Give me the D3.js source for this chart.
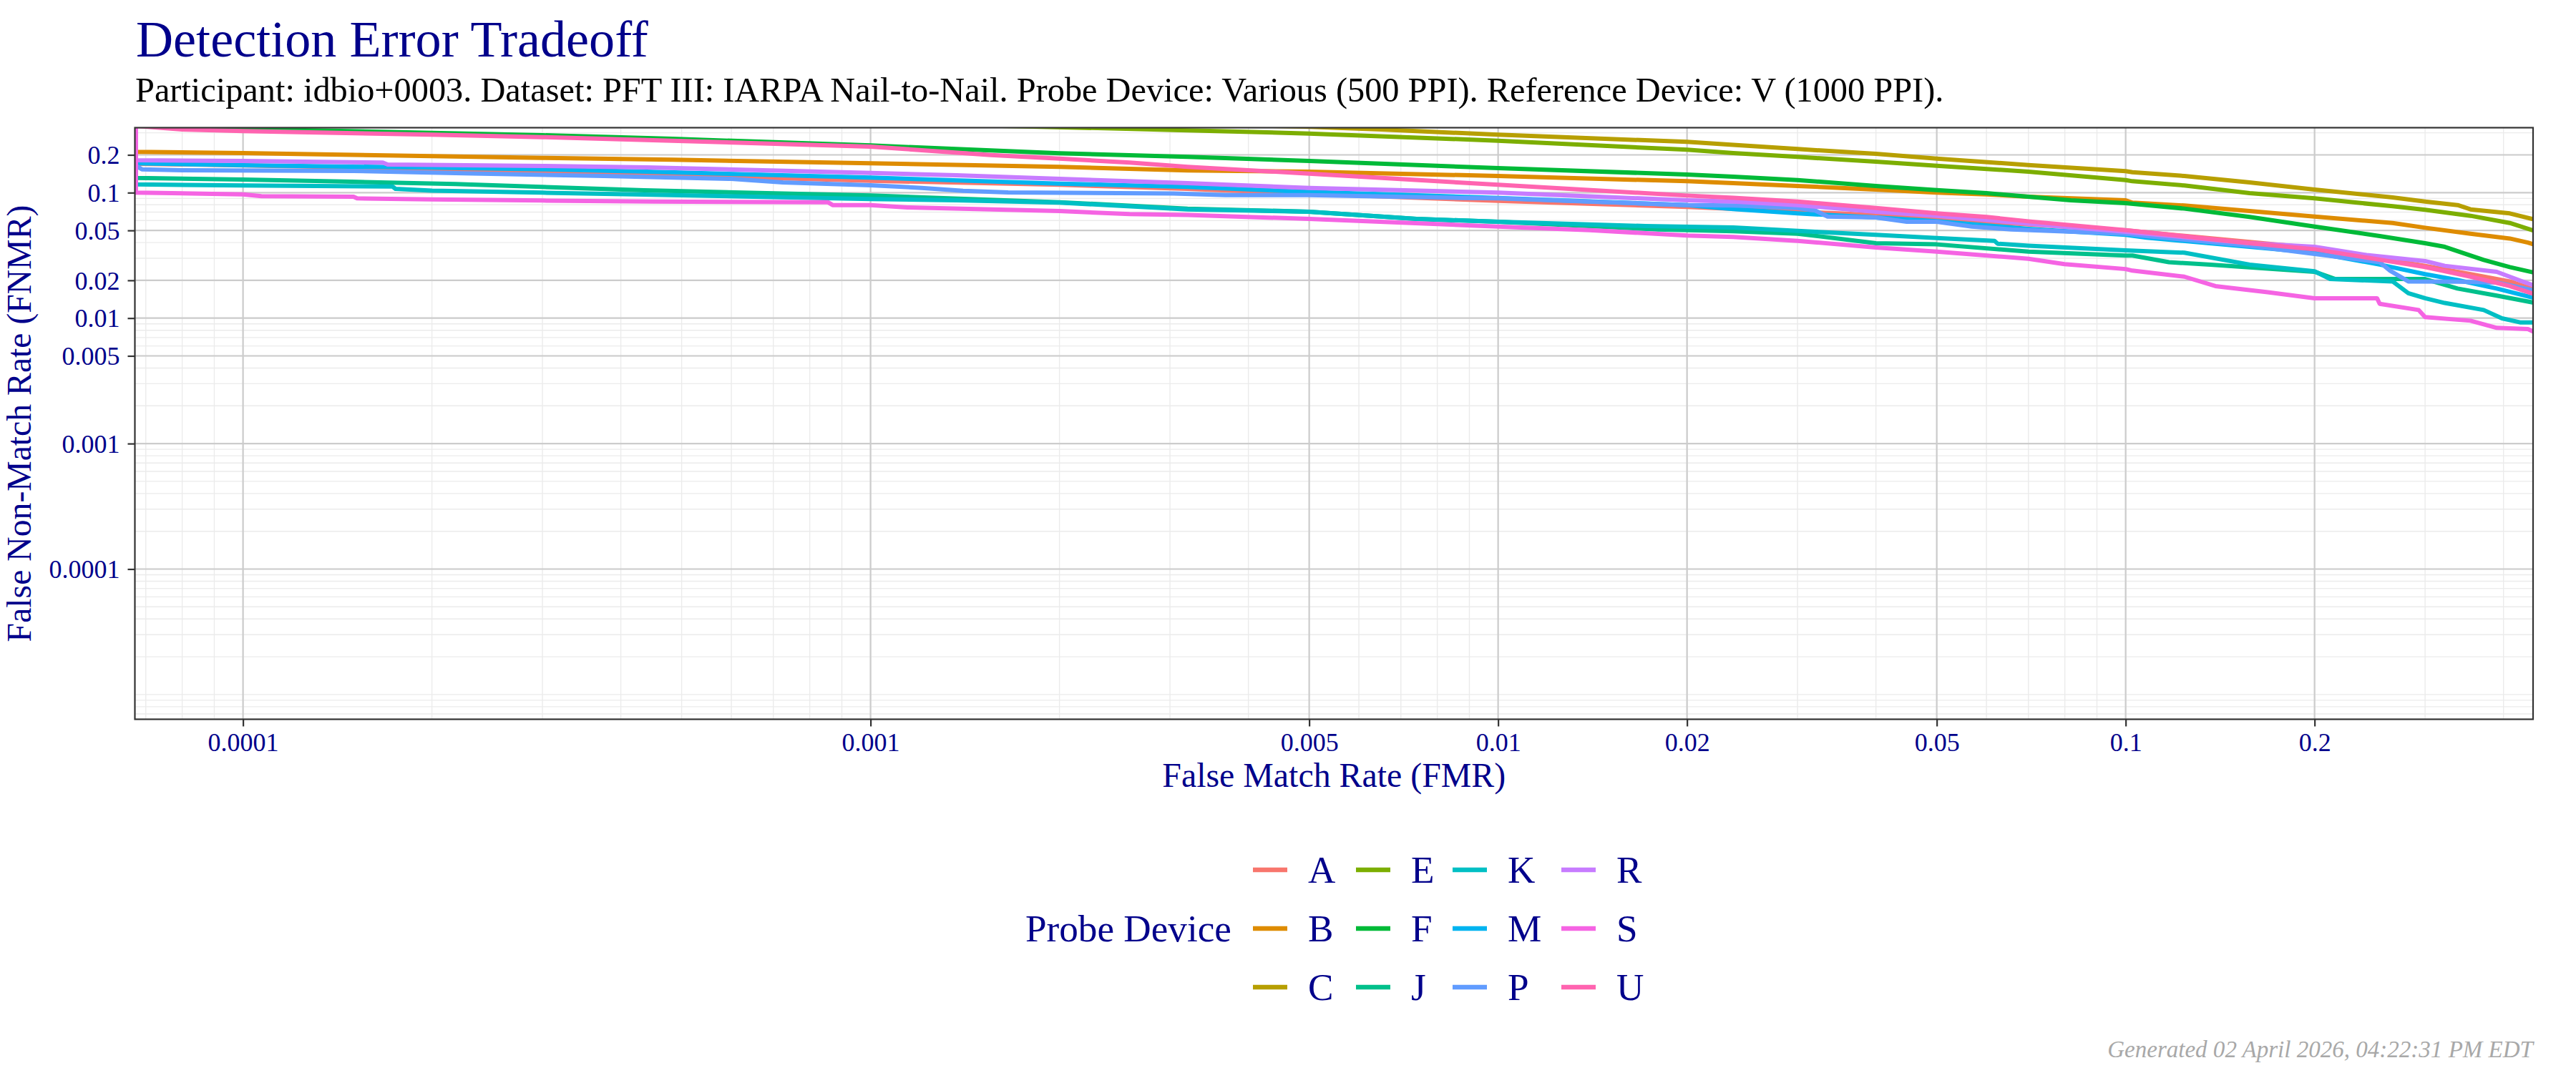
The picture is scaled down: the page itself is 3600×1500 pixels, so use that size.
<!DOCTYPE html>
<html>
<head>
<meta charset="utf-8">
<script src="https://cdn.jsdelivr.net/npm/d3@7"></script>
<style>
  html, body { margin: 0; padding: 0; background: #ffffff; }
  svg { display: block; }
</style>
</head>
<body>
<svg id="chart" width="3600" height="1500"></svg>
<script>
// ---------------- DATA ----------------
const devices = ["A","B","C","E","F","J","K","M","P","R","S","U"];
const deviceColors = ["#F8766D","#DE8C00","#B79F00","#7CAE00","#00BA38","#00C08B","#00BFC4","#00B4F0","#619CFF","#C77CFF","#F564E3","#FF64B0"];

const xTickValues = [0.0001, 0.001, 0.005, 0.01, 0.02, 0.05, 0.1, 0.2];
const xTickLabels = ["0.0001","0.001","0.005","0.01","0.02","0.05","0.1","0.2"];
const yTickValues = [0.0001, 0.001, 0.005, 0.01, 0.02, 0.05, 0.1, 0.2];
const yTickLabels = ["0.0001","0.001","0.005","0.01","0.02","0.05","0.1","0.2"];

// [FMR, FNMR] pairs
const detA = [[6.75e-5,1],[6.75e-5,0.170],[1e-4,0.165],[2e-4,0.155],[3e-4,0.147],[6e-4,0.1334],[1e-3,0.1243],[2e-3,0.1155],[3.2e-3,0.1072],[5e-3,0.098],[0.01,0.086],[0.02,0.077],[0.036,0.068],[0.05,0.062],[0.1,0.050],[0.1576,0.0404],[0.2,0.0362],[0.3,0.0261],[0.3545,0.0224],[0.4093,0.0196],[0.45,0.0168]];
const detB = [[6.75e-5,1],[6.75e-5,0.2113],[1e-4,0.2067],[2e-4,0.1953],[3e-4,0.1894],[4.84e-4,0.1829],[1e-3,0.1713],[2e-3,0.1604],[3.2e-3,0.1502],[5e-3,0.1469],[0.01,0.1358],[0.02,0.1233],[0.0237,0.119],[0.03,0.113],[0.04,0.1058],[0.05,0.1],[0.06,0.0969],[0.07,0.0928],[0.1,0.0869],[0.1025,0.0832],[0.124,0.0789],[0.1576,0.0714],[0.2,0.0645],[0.2663,0.0573],[0.3,0.0525],[0.3545,0.0471],[0.4093,0.0431],[0.4375,0.0400],[0.45,0.0382]];
const detC = [[6.75e-5,1],[6.75e-5,0.52],[1e-3,0.40],[5e-3,0.335],[6.52e-3,0.3187],[0.01,0.2894],[0.02,0.2539],[0.0237,0.240],[0.03,0.2226],[0.04,0.2039],[0.05,0.1869],[0.07,0.1661],[0.1,0.1482],[0.1025,0.1456],[0.124,0.1358],[0.1576,0.1206],[0.2,0.1058],[0.2663,0.0916],[0.3,0.085],[0.338,0.0796],[0.3545,0.0736],[0.4093,0.0683],[0.45,0.0607]];
const detE = [[6.75e-5,1],[6.75e-5,0.48],[1e-3,0.36],[2.76e-3,0.32],[3.04e-3,0.316],[5e-3,0.2958],[0.01,0.2595],[0.02,0.2197],[0.0237,0.2065],[0.03,0.1927],[0.04,0.1766],[0.05,0.1639],[0.07,0.1469],[0.1,0.126],[0.1025,0.1233],[0.124,0.114],[0.1576,0.0991],[0.2,0.09],[0.2663,0.0779],[0.3,0.073],[0.3545,0.0654],[0.4093,0.0573],[0.45,0.0492]];
const detF = [[6.75e-5,1],[6.75e-5,0.345],[1e-4,0.322],[2e-4,0.2997],[3e-4,0.287],[4.84e-4,0.2687],[1e-3,0.2377],[2e-3,0.2058],[3.2e-3,0.1927],[5e-3,0.1789],[0.01,0.1569],[0.02,0.1394],[0.0237,0.134],[0.03,0.126],[0.04,0.113],[0.05,0.1049],[0.06,0.0991],[0.07,0.0928],[0.0818,0.0869],[0.1,0.0824],[0.124,0.0746],[0.1576,0.064],[0.2,0.0537],[0.254,0.0451],[0.3,0.0395],[0.3225,0.037],[0.372,0.0291],[0.4093,0.0255],[0.45,0.0229]];
const detJ = [[6.75e-5,1],[6.75e-5,0.1311],[1e-4,0.1272],[1.49e-4,0.1222],[2.18e-4,0.117],[4.36e-4,0.1044],[1e-3,0.0948],[2e-3,0.0839],[3.2e-3,0.0746],[5e-3,0.0705],[7.41e-3,0.0618],[0.01,0.0586],[0.018,0.0509],[0.0237,0.0492],[0.03,0.0471],[0.04,0.0395],[0.05,0.0387],[0.07,0.0339],[0.1,0.0315],[0.1025,0.0315],[0.1172,0.0279],[0.1365,0.0267],[0.2,0.0234],[0.2158,0.0205],[0.3,0.0205],[0.338,0.0172],[0.3902,0.0151],[0.45,0.0132]];
const detK = [[6.75e-5,1],[6.75e-5,0.1165],[1e-4,0.114],[1.73e-4,0.112],[1.75e-4,0.1072],[2e-4,0.1039],[3e-4,0.1],[4.36e-4,0.0965],[1e-3,0.0888],[1.37e-3,0.0869],[2e-3,0.0832],[3.2e-3,0.0736],[5e-3,0.0705],[7.41e-3,0.0618],[0.01,0.0586],[0.01716,0.0542],[0.0237,0.0528],[0.03,0.0496],[0.04,0.0461],[0.05,0.0435],[0.0618,0.0413],[0.0625,0.0392],[0.07,0.0378],[0.1,0.0347],[0.124,0.0332],[0.1576,0.0267],[0.2,0.0236],[0.2118,0.0205],[0.2663,0.0196],[0.2821,0.0158],[0.3,0.0144],[0.3225,0.0132],[0.372,0.0116],[0.3977,0.00996],[0.425,0.00925],[0.45,0.00925]];
const detM = [[6.75e-5,1],[6.75e-5,0.1713],[1e-4,0.1654],[2e-4,0.1583],[3e-4,0.1535],[4.4e-4,0.147],[1e-3,0.1317],[2e-3,0.118],[3.2e-3,0.111],[5e-3,0.1013],[0.01,0.0908],[0.02,0.0796],[0.0237,0.074],[0.03,0.0683],[0.04,0.0634],[0.05,0.0591],[0.07,0.0514],[0.1,0.0461],[0.108,0.0438],[0.1576,0.037],[0.2,0.0332],[0.254,0.0267],[0.3,0.0224],[0.338,0.0201],[0.3902,0.0172],[0.45,0.0144]];
const detP = [[6.75e-5,1],[6.75e-5,0.164],[6.9e-5,0.1535],[8e-5,0.1509],[1.5e-4,0.1489],[2.32e-4,0.1424],[2.84e-4,0.1394],[3.76e-4,0.1358],[6e-4,0.1288],[7.25e-4,0.1206],[1e-3,0.1145],[1.206e-3,0.1091],[1.404e-3,0.1035],[1.657e-3,0.1004],[3.04e-3,0.0985],[3.68e-3,0.0957],[5e-3,0.0955],[8.74e-3,0.0908],[0.01,0.09],[0.02,0.0796],[0.0237,0.079],[0.03,0.0755],[0.032,0.072],[0.0335,0.0645],[0.04,0.0634],[0.0448,0.0586],[0.05,0.0586],[0.054,0.0556],[0.0569,0.0537],[0.0658,0.0509],[0.1,0.0471],[0.108,0.045],[0.1576,0.0378],[0.2,0.0325],[0.254,0.0279],[0.2638,0.0239],[0.2821,0.0196],[0.338,0.0195],[0.3902,0.0192],[0.45,0.0165]];
const detR = [[6.75e-5,1],[6.75e-5,0.1813],[1e-4,0.1789],[1.67e-4,0.1735],[1.7e-4,0.1675],[3e-4,0.1632],[4.4e-4,0.159],[1e-3,0.1437],[1.37e-3,0.1376],[2e-3,0.1288],[3.2e-3,0.119],[5e-3,0.1091],[0.01,0.1],[0.02,0.0869],[0.0237,0.085],[0.03,0.0796],[0.04,0.0705],[0.05,0.0654],[0.07,0.0566],[0.1,0.0488],[0.1576,0.0395],[0.2,0.037],[0.242,0.0318],[0.3,0.0285],[0.3225,0.0261],[0.3902,0.0234],[0.429,0.0196],[0.45,0.018]];
const detS = [[6.75e-5,1],[6.75e-5,0.1],[1e-4,0.0969],[1.07e-4,0.0936],[1.5e-4,0.0928],[1.52e-4,0.09],[2e-4,0.0884],[3e-4,0.0865],[4.5e-4,0.0848],[8.55e-4,0.0839],[8.7e-4,0.0796],[1e-3,0.0796],[1.145e-3,0.0762],[2e-3,0.0714],[2.587e-3,0.0674],[3.2e-3,0.0663],[5e-3,0.0618],[0.01,0.0537],[0.014,0.0503],[0.02,0.0455],[0.0237,0.0444],[0.03,0.0413],[0.04,0.0365],[0.05,0.0339],[0.07,0.0297],[0.0799,0.0269],[0.1,0.0246],[0.1025,0.0239],[0.124,0.0214],[0.139,0.018],[0.1684,0.0161],[0.2,0.0144],[0.2515,0.0144],[0.254,0.013],[0.2931,0.0116],[0.3,0.0102],[0.3545,0.00953],[0.3902,0.00836],[0.4375,0.00818],[0.45,0.00766]];
const detU = [[6.75e-5,1],[6.75e-5,0.34],[8e-5,0.3187],[1e-4,0.309],[2e-4,0.2894],[3e-4,0.277],[4.5e-4,0.262],[1e-3,0.2326],[1.555e-3,0.1996],[2e-3,0.1869],[2.587e-3,0.1735],[3.2e-3,0.1604],[5e-3,0.1418],[0.01,0.1155],[0.02,0.0948],[0.0237,0.091],[0.03,0.085],[0.04,0.0755],[0.05,0.0683],[0.06,0.064],[0.07,0.0591],[0.1,0.0503],[0.1576,0.0395],[0.2,0.0354],[0.242,0.0304],[0.3,0.0255],[0.3545,0.0214],[0.4093,0.018],[0.45,0.0154]];

const seriesData = [detA, detB, detC, detE, detF, detJ, detK, detM, detP, detR, detS, detU];

const titleText = "Detection Error Tradeoff";
const subtitleText = "Participant: idbio+0003. Dataset: PFT III: IARPA Nail-to-Nail. Probe Device: Various (500 PPI). Reference Device: V (1000 PPI).";
const xTitleText = "False Match Rate (FMR)";
const yTitleText = "False Non-Match Rate (FNMR)";
const legendTitleText = "Probe Device";
const footText = "Generated 02 April 2026, 04:22:31 PM EDT";

// ---------------- LAYOUT ----------------
const FONT = "'Palatino Linotype','Book Antiqua',Palatino,'Liberation Serif','Times New Roman',serif";
const NAVY = "#00008B";
const panel = {left: 188.5, right: 3540, top: 178.5, bottom: 1005.5};

const svg = d3.select("#chart");
svg.append("rect").attr("width", 3600).attr("height", 1500).attr("fill", "#ffffff");

const x = d3.scaleLog().domain([Math.pow(10, -4.1723), Math.pow(10, -0.3508)]).range([panel.left, panel.right]);
const y = d3.scaleLog().domain([Math.pow(10, -5.1973), Math.pow(10, -0.4823)]).range([panel.bottom, panel.top]);

function fitWidth(sel, target) {
  const len = sel.node().getComputedTextLength();
  const fs = parseFloat(sel.attr("font-size"));
  if (len > 0) sel.attr("font-size", fs * target / len);
  return sel;
}

// minor grid positions (k * 10^n)
function minorVals(domain) {
  const out = [];
  for (let n = -7; n <= 0; n++) for (let k = 1; k <= 9; k++) {
    const v = k * Math.pow(10, n);
    if (v >= domain[0] && v <= domain[1]) out.push(v);
  }
  return out;
}

const grid = svg.append("g");
grid.selectAll("line.xmin").data(minorVals(x.domain())).join("line")
  .attr("x1", d => x(d)).attr("x2", d => x(d)).attr("y1", panel.top).attr("y2", panel.bottom)
  .attr("stroke", "#EBEBEB").attr("stroke-width", 1.4);
grid.selectAll("line.ymin").data(minorVals(y.domain())).join("line")
  .attr("y1", d => y(d)).attr("y2", d => y(d)).attr("x1", panel.left).attr("x2", panel.right)
  .attr("stroke", "#EBEBEB").attr("stroke-width", 1.4);
grid.selectAll("line.xmaj").data(xTickValues).join("line")
  .attr("x1", d => x(d)).attr("x2", d => x(d)).attr("y1", panel.top).attr("y2", panel.bottom)
  .attr("stroke", "#CCCCCC").attr("stroke-width", 2.2);
grid.selectAll("line.ymaj").data(yTickValues).join("line")
  .attr("y1", d => y(d)).attr("y2", d => y(d)).attr("x1", panel.left).attr("x2", panel.right)
  .attr("stroke", "#CCCCCC").attr("stroke-width", 2.2);

// clip
svg.append("clipPath").attr("id", "clip").append("rect")
  .attr("x", panel.left).attr("y", panel.top)
  .attr("width", panel.right - panel.left).attr("height", panel.bottom - panel.top);

const line = d3.line().x(d => x(d[0])).y(d => y(d[1]));
const lines = svg.append("g").attr("clip-path", "url(#clip)");
seriesData.forEach((s, i) => {
  lines.append("path").datum(s).attr("d", line)
    .attr("fill", "none").attr("stroke", deviceColors[i])
    .attr("stroke-width", 6).attr("stroke-linejoin", "round").attr("stroke-linecap", "butt");
});

// panel border
svg.append("rect").attr("x", panel.left).attr("y", panel.top)
  .attr("width", panel.right - panel.left).attr("height", panel.bottom - panel.top)
  .attr("fill", "none").attr("stroke", "#333333").attr("stroke-width", 2.2);

// x axis
const xAxis = d3.axisBottom(x).tickValues(xTickValues)
  .tickFormat((d, i) => xTickLabels[i]).tickSize(10).tickPadding(12);
const gx = svg.append("g").attr("transform", `translate(0,${panel.bottom})`).call(xAxis);
gx.select(".domain").remove();
gx.selectAll(".tick line").attr("stroke", "#333333").attr("stroke-width", 2.2);
gx.selectAll(".tick text").attr("font-family", FONT).attr("font-size", 36).attr("fill", NAVY)
  .attr("dy", null).attr("y", 44);

// y axis
const yAxis = d3.axisLeft(y).tickValues(yTickValues)
  .tickFormat((d, i) => yTickLabels[i]).tickSize(10).tickPadding(11);
const gy = svg.append("g").attr("transform", `translate(${panel.left},0)`).call(yAxis);
gy.select(".domain").remove();
gy.selectAll(".tick line").attr("stroke", "#333333").attr("stroke-width", 2.2);
gy.selectAll(".tick text").attr("font-family", FONT).attr("font-size", 36).attr("fill", NAVY)
  .attr("dy", "0.34em");

// titles
fitWidth(svg.append("text").attr("x", 190).attr("y", 79).attr("font-family", FONT)
  .attr("font-size", 68).attr("fill", NAVY).text(titleText), 716);
fitWidth(svg.append("text").attr("x", 189).attr("y", 142).attr("font-family", FONT)
  .attr("font-size", 46).attr("fill", "#000000").text(subtitleText), 2528);

fitWidth(svg.append("text").attr("x", (panel.left + panel.right) / 2).attr("y", 1100)
  .attr("text-anchor", "middle").attr("font-family", FONT).attr("font-size", 42)
  .attr("fill", NAVY).text(xTitleText), 480);
fitWidth(svg.append("text").attr("transform", `translate(43,${(panel.top + panel.bottom) / 2}) rotate(-90)`)
  .attr("text-anchor", "middle").attr("font-family", FONT).attr("font-size", 42)
  .attr("fill", NAVY).text(yTitleText), 611);

// legend
const legendTitle = fitWidth(svg.append("text").attr("x", 1433).attr("y", 1316)
  .attr("font-family", FONT).attr("font-size", 50).attr("fill", NAVY).text(legendTitleText), 288);
const legendFs = parseFloat(legendTitle.attr("font-size"));
const colX = [1751, 1895, 2030, 2182];
const rowY = [1216, 1298, 1380];
const lg = svg.append("g");
devices.forEach((dv, i) => {
  const c = Math.floor(i / 3), r = i % 3;
  lg.append("line").attr("x1", colX[c]).attr("x2", colX[c] + 48)
    .attr("y1", rowY[r]).attr("y2", rowY[r])
    .attr("stroke", deviceColors[i]).attr("stroke-width", 6.5);
  lg.append("text").attr("x", colX[c] + 77).attr("y", rowY[r] + 17.5)
    .attr("font-family", FONT).attr("font-size", legendFs).attr("fill", NAVY).text(dv);
});

// footnote
fitWidth(svg.append("text").attr("x", 3540).attr("y", 1478).attr("text-anchor", "end")
  .attr("font-family", FONT).attr("font-style", "italic").attr("font-size", 30)
  .attr("fill", "#A8A8A8").text(footText), 595);
</script>
</body>
</html>
